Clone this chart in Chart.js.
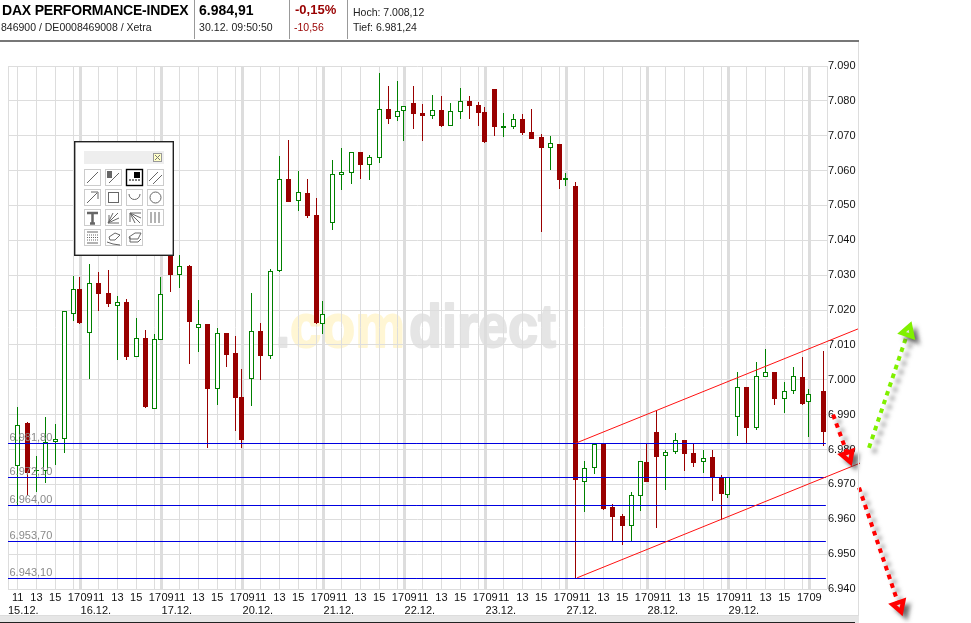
<!DOCTYPE html>
<html lang="de">
<head>
<meta charset="utf-8">
<title>DAX PERFORMANCE-INDEX</title>
<script src="https://cdn.jsdelivr.net/npm/chart.js@4"></script>
<style>
html,body{margin:0;padding:0;background:#fff;width:971px;height:623px;overflow:hidden;font-family:"Liberation Sans",Arial,sans-serif}
#c{position:absolute;left:0;top:0}
.t{position:absolute;white-space:nowrap;line-height:14px;color:#222}
.sep{position:absolute;top:0;width:1px;height:39px;background:#999}
#hr{position:absolute;left:0;top:40px;width:859px;height:2px;background:#777}
#vr{position:absolute;left:858px;top:42px;width:1px;height:574px;background:#ddd}
#band{position:absolute;left:0;top:615px;width:859px;height:8px;background:#e6e6e6;border-top:1px solid #ddd;box-sizing:border-box}
#band i{position:absolute;left:0;right:4px;top:6px;height:2px;background:#222}
#tools{position:absolute;left:74px;top:141px}
</style>
</head>
<body>
<canvas id="c" width="971" height="623"></canvas>
<div class="t" style="left:2px;top:3px;font-weight:bold;font-size:14px;letter-spacing:-.2px;color:#000">DAX PERFORMANCE-INDEX</div>
<div class="t" style="left:1px;top:20px;font-size:10.5px">846900 / DE0008469008 / Xetra</div>
<div class="sep" style="left:194px"></div>
<div class="t" style="left:199px;top:3px;font-weight:bold;font-size:14px;color:#000">6.984,91</div>
<div class="t" style="left:199px;top:20px;font-size:10.5px;letter-spacing:.05px">30.12. 09:50:50</div>
<div class="sep" style="left:289px"></div>
<div class="t" style="left:295px;top:3px;font-weight:bold;font-size:13px;color:#990000">-0,15%</div>
<div class="t" style="left:294px;top:20px;font-size:10.5px;color:#990000">-10,56</div>
<div class="sep" style="left:347px"></div>
<div class="t" style="left:353px;top:5px;font-size:10.5px">Hoch: 7.008,12</div>
<div class="t" style="left:353px;top:20px;font-size:10.5px">Tief: 6.981,24</div>
<div id="hr"></div><div id="vr"></div><div id="band"><i></i></div>

<svg id="tools" width="100" height="115" viewBox="0 0 100 115">
<rect x="0.7" y="0.7" width="98.6" height="113.600" fill="#fff" stroke="#222" stroke-width="1.4"/>
<rect x="10" y="10" width="80" height="13" fill="#eee"/>
<rect x="79.500" y="12.500" width="8" height="8" fill="#ffffc8" stroke="#999"/>
<path d="M81 14l5 5M86 14l-5 5" stroke="#777" fill="none"/>
<g fill="#fff" stroke="#ccc">
<rect x="10.500" y="28.500" width="16" height="16"/><rect x="31.500" y="28.500" width="16" height="16"/><rect x="73.500" y="28.500" width="16" height="16"/>
<rect x="10.500" y="48.500" width="16" height="16"/><rect x="31.500" y="48.500" width="16" height="16"/><rect x="52.500" y="48.500" width="16" height="16"/><rect x="73.500" y="48.500" width="16" height="16"/>
<rect x="10.500" y="68.500" width="16" height="16"/><rect x="31.500" y="68.500" width="16" height="16"/><rect x="52.500" y="68.500" width="16" height="16"/><rect x="73.500" y="68.500" width="16" height="16"/>
<rect x="10.500" y="88.500" width="16" height="16"/><rect x="31.500" y="88.500" width="16" height="16"/><rect x="52.500" y="88.500" width="16" height="16"/>
</g>
<rect x="52.500" y="28.500" width="16" height="16" fill="#fff" stroke="#000" stroke-width="1.400"/>
<g fill="none" stroke="#666">
<path d="M13 42l11-11"/>
<path d="M35 42l10-10"/><rect x="33" y="30" width="5" height="7" fill="#666" stroke="none"/>
<path d="M55 39h11" stroke="#000" stroke-dasharray="2 1"/><rect x="60" y="31" width="6" height="6" fill="#000" stroke="none"/>
<path d="M75 40l9-9M79 43l9-9"/>
<path d="M13 62l10-10M17 51h7v7"/>
<rect x="34.500" y="51.500" width="10" height="10"/>
<path d="M55 53a5.500 5.500 0 0 0 11 0"/>
<circle cx="81.500" cy="56.500" r="5.500"/>
<path d="M13 72h11M18.500 72v10M16 82.500h5" stroke-width="2.500"/>
<path d="M34 82l10-10M34 82l11-5M34 82l5-10M34 82h11M35 74v7"/>
<path d="M56 72l10 10M56 72l11 5M56 72l5 10M56 72h11M56 72v9"/>
<path d="M77 71v11M81 71v11M85 71v11"/>
<path d="M13 91h11M13 102h11"/>
<path d="M13 94h11M13 96.500h11M13 99h11" stroke-dasharray="1 1"/>
<path d="M35 96l6-4 5 2-5 5h-5zM33 101l6 2 7 1"/>
<path d="M55 96l6-4h6l-3 6h-8zM56 96v5h8l3-3"/>
</g>
</svg>

<script>
// Session start of every candle: trading day and hour on the chart's time axis.
const candleDay = [15,15,15,15,15,15,15,
  16,16,16,16,16,16,16,16,16, 17,17,17,17,17,17,17,17,17,
  20,20,20,20,20,20,20,20,20, 21,21,21,21,21,21,21,21,21,
  22,22,22,22,22,22,22,22,22, 23,23,23,23,23,23,23,23,23,
  27,27,27,27,27,27,27,27,27, 28,28,28,28,28,28,28,28,28,
  29,29,29,29,29,29,29,29,29, 30,30];
const candleHour = [11,12,13,14,15,16,17,
  9,10,11,12,13,14,15,16,17, 9,10,11,12,13,14,15,16,17,
  9,10,11,12,13,14,15,16,17, 9,10,11,12,13,14,15,16,17,
  9,10,11,12,13,14,15,16,17, 9,10,11,12,13,14,15,16,17,
  9,10,11,12,13,14,15,16,17, 9,10,11,12,13,14,15,16,17,
  9,10,11,12,13,14,15,16,17, 9,10.5];
const openValues = [6975.4,6987.7,6973.7,6973.7,6982.3,6983.1,7019.0,
  7025.9,7013.3,7027.9,7025.0,7021.3,7022.2,7006.4,7012.1,6991.7,
  7011.5,7037.9,7030.2,7032.5,7015.0,7016.1,6997.5,7013.3,7007.8,
  6995.2,7000.3,7014.1,7006.7,7031.3,7057.7,7051.4,7053.7,7047.4,
  7016.1,7045.1,7058.6,7059.4,7065.2,7061.5,7063.5,7077.8,7075.5,
  7077.0,7079.5,7076.4,7075.8,7077.5,7072.9,7076.7,7080.1,7078.7,
  7076.7,7083.3,7072.1,7072.4,7074.7,7071.2,7069.5,7066.6,7067.5,
  7057.2,7055.7,6970.8,6974.8,6981.7,6963.6,6961.0,6958.2,6966.8,
  6976.5,6985.1,6978.2,6979.4,6982.8,6979.1,6976.5,6978.0,6972.2,
  6967.1,6989.4,6997.8,6986.3,7000.9,7002.1,6994.6,6996.9,7000.9,
  6993.5,6996.9];
const closeValues = [6987.1,6973.4,6974.2,6982.3,6983.1,7019.6,7025.9,
  7016.4,7027.9,7024.7,7021.6,7022.2,7006.4,7012.1,6992.3,7011.8,
  7024.7,7030.2,7032.5,7016.7,7016.1,6997.5,7013.3,7007.2,6994.9,
  6982.6,7014.1,7006.7,7031.3,7057.7,7051.1,7054.0,7047.1,7016.4,
  7019.0,7058.9,7059.7,7065.2,7061.5,7063.8,7077.8,7074.7,7077.2,
  7078.4,7076.1,7075.8,7077.5,7072.9,7077.0,7080.1,7078.4,7076.4,
  7068.1,7072.4,7072.7,7074.7,7070.9,7069.2,7066.6,7067.8,7057.2,
  7058.0,6971.4,6974.8,6981.7,6963.0,6960.7,6958.2,6967.1,6976.8,
  6970.8,6978.0,6979.4,6982.8,6978.8,6976.2,6977.7,6972.2,6967.3,
  6972.2,6997.8,6986.3,7001.2,7002.1,6994.6,6996.9,7001.2,6993.2,
  6995.8,6984.9];
const highValues = [6992.3,6988.0,6978.2,6989.4,6987.4,7019.6,7029.9,
  7029.6,7033.3,7031.0,7031.6,7024.1,7023.3,7017.8,7014.4,7013.0,
  7029.6,7040.2,7035.9,7033.0,7023.0,7016.1,7015.0,7013.3,7012.7,
  7003.2,7025.0,7016.4,7031.9,7064.3,7068.9,7060.0,7057.7,7052.0,
  7022.7,7062.9,7066.6,7065.2,7065.2,7064.6,7088.1,7084.4,7085.6,
  7078.4,7084.4,7079.0,7081.8,7081.3,7079.5,7083.8,7081.3,7079.8,
  7078.1,7083.3,7076.4,7076.1,7076.1,7077.8,7070.4,7069.8,7067.5,
  7059.4,7056.6,6976.8,6981.7,6981.7,6964.5,6961.6,6967.9,6976.8,
  6982.0,6991.2,6980.0,6984.6,6982.8,6982.0,6980.0,6980.0,6972.8,
  6972.2,7002.1,6998.0,7005.2,7008.7,7002.1,6999.5,7003.8,7006.4,
  6997.5,7008.4];
const lowValues = [6964.2,6967.1,6967.9,6970.5,6975.7,6979.1,7017.0,
  7016.1,7000.3,7019.6,7021.0,7005.8,7005.8,7006.4,6992.0,6991.7,
  7011.5,7025.3,7026.2,7004.6,7008.1,6980.5,6992.9,7003.8,6985.4,
  6980.3,6992.6,6999.8,7006.1,7031.0,7051.1,7048.3,7046.5,7016.1,
  7013.0,7043.1,7054.3,7056.3,7057.7,7057.2,7062.3,7073.5,7074.1,
  7068.6,7071.8,7068.6,7074.7,7072.4,7072.9,7074.9,7074.9,7072.7,
  7067.8,7069.8,7069.5,7071.8,7070.1,7069.2,7042.5,7060.3,7054.6,
  7055.7,6943.2,6962.2,6973.1,6962.7,6953.9,6952.7,6953.6,6962.5,
  6970.8,6957.6,6968.5,6978.8,6973.9,6975.1,6973.4,6965.3,6959.9,
  6966.2,6984.0,6982.0,6985.7,7000.9,6992.9,6990.6,6996.0,6992.9,
  6983.7,6981.1];

// Axis labels
const priceTicks = [6940,6950,6960,6970,6980,6990,7000,7010,7020,7030,7040,7050,7060,7070,7080,7090];
const dayLabels = ['15.12.','16.12.','17.12.','20.12.','21.12.','22.12.','23.12.','27.12.','28.12.','29.12.',''];
const sessionDays = [15,16,17,20,21,22,23,27,28,29,30];
const hourLabels = ['11','13','15','17','09'];

// Horizontal levels and hand-drawn annotations (time position, price)
const levelValues = [6981.8,6972.1,6964.0,6953.7,6943.1];
const levelLabels = ['6.981,80','6.972,10','6.964,00','6.953,70','6.943,10'];
const channelUpperX = [61.50,91.63], channelUpperY = [6981.8,7014.6];
const channelLowerX = [61.66,91.84], channelLowerY = [6943.2,6976.1];
const arrowUpX = [92.80,96.96], arrowUpY = [6980.5,7013.8];
const arrowDownShortX = [88.97,90.56], arrowDownShortY = [6990.0,6978.2];
const arrowDownLongX = [91.74,96.00], arrowDownLongY = [6969.1,6935.2];

const RED='#990000', GREEN='#008000', GRID='#dddddd';
const DAY_PITCH = 8.64;            // nine hourly candles plus the overnight gap
const dayOrder = d => sessionDays.indexOf(d);
const timeX = (d,h) => dayOrder(d)*DAY_PITCH + (h-9);
const X_MIN = 0.9653, X_MAX = 88.32;

const candleX = candleDay.map((d,i)=>timeX(d,candleHour[i]));
const isUp = closeValues.map((c,i)=>c>=openValues[i]);
const wickData = candleX.map((x,i)=>({x,y:[lowValues[i],highValues[i]]}));
const bodyData = candleX.map((x,i)=>({x,y:[openValues[i],closeValues[i]]}));
const pairs = (xs,ys)=>xs.map((x,i)=>({x,y:ys[i]}));

// Hour ticks: 11/13/15/17 on their grid lines, the 09 label set just right of the day line
const hourTickValues=[], hourTickText=[], hourTickGrid=[];
sessionDays.forEach((d,di)=>{
  hourLabels.forEach(l=>{
    const h=+l;
    if(l==='09'){
      if(di===0) return;
      hourTickValues.push(timeX(d,9)+0.70); hourTickText.push(l); hourTickGrid.push(false);
    }else{
      if((d===15&&h<11)||d===30) return;
      hourTickValues.push(timeX(d,h)); hourTickText.push(l); hourTickGrid.push(true);
    }
  });
});
const hourOrder = hourTickValues.map((v,i)=>i).sort((a,b)=>hourTickValues[a]-hourTickValues[b]);
const hourVals = hourOrder.map(i=>hourTickValues[i]);
const hourText = hourOrder.map(i=>hourTickText[i]);
const hourGrid = hourOrder.map(i=>hourTickGrid[i]);
hourVals.push(X_MAX); hourText.push(''); hourGrid.push(true);

const dayVals = sessionDays.map((d,i)=> i===0 ? X_MIN : timeX(d,9)+0.06);

const fmtPrice = v => { const s=String(v); return s[0]+'.'+s.slice(1); };

const levelDs = levelValues.map((v,i)=>({
  type:'line', label:levelLabels[i], data:pairs([X_MIN,88.2],[v,v]), order:3,
  borderColor:'#0000e0', borderWidth:1, pointRadius:0, tension:0, level:true, clip:false
}));
const lineDs=(label,xs,ys,color)=>({type:'line',label,data:pairs(xs,ys),order:2,borderColor:color,borderWidth:1,pointRadius:0,tension:0,clip:false});
const arrowDs=(label,xs,ys,color,rot)=>({type:'line',label,data:pairs(xs,ys),order:1,borderColor:color,borderWidth:4,
  borderDash:[4.6,4.6],pointRadius:[0,6.5],pointStyle:'triangle',pointRotation:rot,
  pointBackgroundColor:'#ffffff',pointBorderColor:color,pointBorderWidth:4.5,tension:0,clip:false,arrow:true});

const snap = {
  id:'snap',
  afterDatasetsUpdate(chart){
    chart.data.datasets.forEach((ds,i)=>{
      const meta=chart.getDatasetMeta(i);
      if(meta.type==='bar'){
        meta.data.forEach(el=>{
          el.x=Math.floor(el.x)+0.5;
          const top=Math.round(Math.min(el.y,el.base)), bot=Math.round(Math.max(el.y,el.base));
          el.y=top; el.base=bot===top?top+1:bot; el.height=el.base-el.y; el.width=ds.snapWidth;
        });
      }else if(ds.level){
        meta.data.forEach(p=>{p.y=Math.floor(p.y)+0.5;});
      }
    });
  }
};
const watermark = {
  id:'watermark',
  beforeDraw(chart){
    const c=chart.ctx; c.save();
    c.textBaseline='alphabetic'; c.textAlign='left'; c.lineWidth=2; c.lineJoin='round';
    c.font='bold 62px "Liberation Sans", Arial, sans-serif';
    const put=(s,x,w,col)=>{c.fillStyle=col;c.strokeStyle=col;c.strokeText(s,x,347,w);c.fillText(s,x,347,w);};
    put('.',276,14,'#e5e5e5');
    put('com',290,115,'#fff6d4');
    put('direct',409,147,'#e5e5e5');
    c.restore();
  }
};
const shadow = {
  id:'arrowShadow',
  beforeDatasetDraw(chart,args){
    if(chart.data.datasets[args.index].arrow){
      const c=chart.ctx; c.save();
      c.shadowColor='rgba(60,60,60,.55)'; c.shadowBlur=4; c.shadowOffsetX=5; c.shadowOffsetY=5;
    }
  },
  afterDatasetDraw(chart,args){
    if(chart.data.datasets[args.index].arrow){
      // the arrow head lies outside the plot area, so draw the point element without the area test
      chart.getDatasetMeta(args.index).data[1].draw(chart.ctx);
      chart.ctx.restore();
    }
  }
};
const levelText = {
  id:'levelText',
  afterDatasetsDraw(chart){
    const c=chart.ctx, y=chart.scales.y, x=chart.scales.x;
    c.save(); c.font='11px "Liberation Sans", Arial, sans-serif'; c.fillStyle='#8a8a8a';
    c.textAlign='left'; c.textBaseline='alphabetic';
    levelValues.forEach((v,i)=>c.fillText(levelLabels[i],x.left+1.5,Math.floor(y.getPixelForValue(v))-2));
    c.restore();
  }
};
const noSidePad = s => { s.paddingLeft=0; s.paddingRight=0; };

new Chart(document.getElementById('c'),{
  type:'bar',
  data:{datasets:[
    {label:'Docht',data:wickData,order:5,snapWidth:1,grouped:false,maxBarThickness:1,barThickness:1,inflateAmount:0,
     backgroundColor:isUp.map(u=>u?GREEN:RED),borderWidth:0},
    {label:'Körper',data:bodyData,order:4,snapWidth:5,grouped:false,maxBarThickness:5,barThickness:5,inflateAmount:0,
     backgroundColor:isUp.map(u=>u?'#ffffff':RED),borderColor:isUp.map(u=>u?GREEN:RED),borderWidth:1,borderSkipped:false},
    ...levelDs,
    lineDs('Kanal oben',channelUpperX,channelUpperY,'#ff1010'),
    lineDs('Kanal unten',channelLowerX,channelLowerY,'#ff1010'),
    arrowDs('Pfeil hoch',arrowUpX,arrowUpY,'#80f000',18.6),
    arrowDs('Pfeil runter kurz',arrowDownShortX,arrowDownShortY,'#ff0000',160),
    arrowDs('Pfeil runter lang',arrowDownLongX,arrowDownLongY,'#ff0000',161)
  ]},
  plugins:[snap,watermark,shadow,levelText],
  options:{
    responsive:false, animation:false, events:[],
    layout:{autoPadding:false,padding:{left:8,top:66,right:0,bottom:4}},
    plugins:{legend:{display:false},tooltip:{enabled:false},title:{display:false}},
    elements:{line:{capBezierPoints:false,borderCapStyle:'butt'}},
    scales:{
      x:{
        type:'linear',position:'bottom',offset:false,min:X_MIN,max:X_MAX,
        afterBuildTicks(s){s.ticks=hourVals.map(value=>({value}));},
        afterFit(s){s.height=15;noSidePad(s);},
        border:{display:false},
        grid:{offset:false,drawTicks:false,lineWidth:1,color:c=>hourGrid[c.index]===false?'rgba(0,0,0,0)':GRID},
        ticks:{autoSkip:false,maxRotation:0,minRotation:0,padding:2,color:'#111',
          font:{family:'"Liberation Sans", Arial, sans-serif',size:11},
          callback:(v,i)=>hourText[i]}
      },
      days:{
        type:'linear',position:'bottom',offset:false,min:X_MIN,max:X_MAX,
        afterBuildTicks(s){s.ticks=dayVals.map(value=>({value}));},
        afterFit(s){s.height=15;noSidePad(s);},
        border:{display:false},
        grid:{offset:false,drawTicks:false,color:GRID,lineWidth:c=>c.index===0?1:3},
        ticks:{autoSkip:false,maxRotation:0,minRotation:0,padding:0,align:'start',color:'#111',
          font:{family:'"Liberation Sans", Arial, sans-serif',size:11},
          callback:(v,i)=>dayLabels[i]}
      },
      y:{
        type:'linear',position:'right',min:6940,max:7090,
        afterBuildTicks(s){s.ticks=priceTicks.map(value=>({value}));},
        afterFit(s){s.width=144;s.paddingTop=0;s.paddingBottom=0;},
        border:{display:false},
        grid:{drawTicks:false,color:GRID,lineWidth:1},
        ticks:{autoSkip:false,padding:1,color:'#111',crossAlign:'near',
          font:{family:'"Liberation Sans", Arial, sans-serif',size:11},
          callback:v=>fmtPrice(v)}
      }
    }
  }
});
</script>
</body>
</html>
